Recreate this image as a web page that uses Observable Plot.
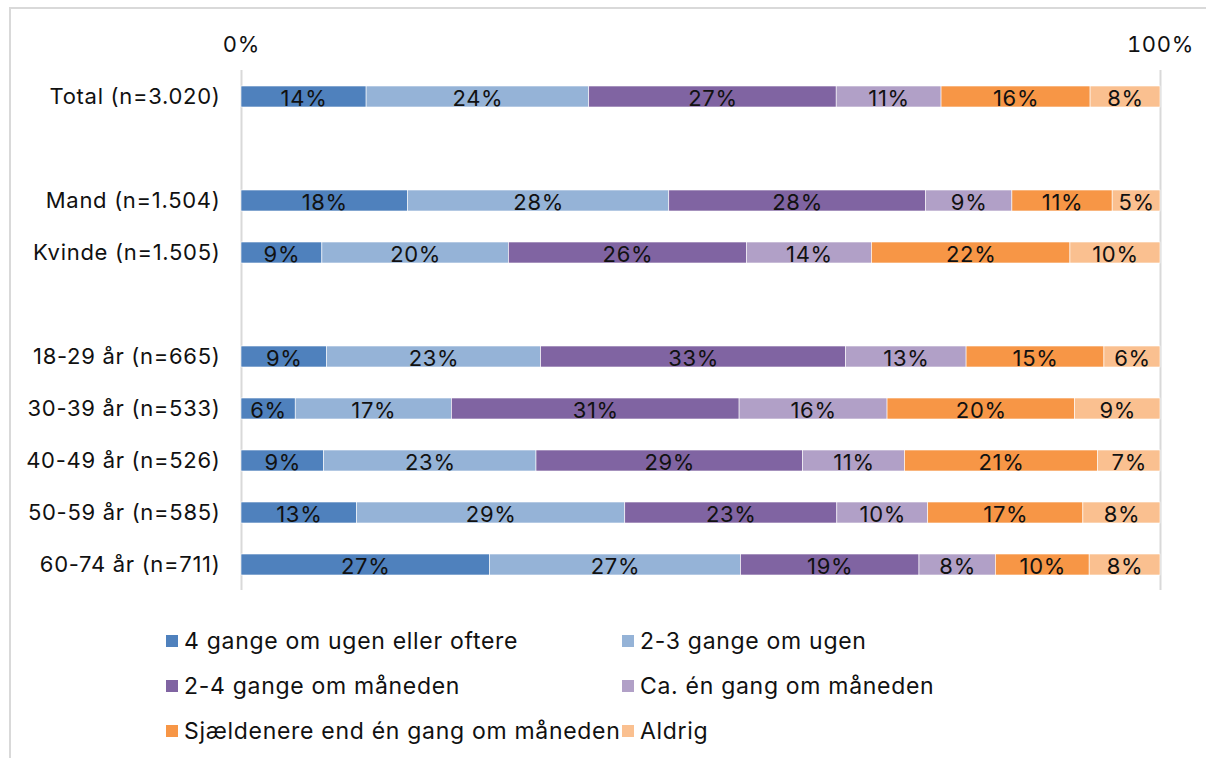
<!DOCTYPE html>
<html>
<head>
<meta charset="utf-8">
<script src="https://cdn.jsdelivr.net/npm/d3@7"></script>
<script src="https://cdn.jsdelivr.net/npm/@observablehq/plot@0.6"></script>
<style>
  html, body { margin: 0; padding: 0; background: #fff; }
  body { width: 1206px; height: 758px; position: relative; overflow: hidden; font-family: Inter, "Open Sans", sans-serif; }
  #frame { position: absolute; left: 9px; top: 7px; width: 1300px; height: 900px; border-left: 2px solid #d9d9d9; border-top: 2px solid #d9d9d9; }
  #chart { position: absolute; left: 0; top: 0; }
  #chart svg text { letter-spacing: 0.7px; }
  #legend { position: absolute; left: 0; top: 0; width: 1206px; }
  .item { position: absolute; display: flex; align-items: center; font-size: 23px; letter-spacing: 0.7px; color: #111; white-space: nowrap; height: 30px; }
  .sw { width: 12px; height: 12px; margin-right: 6px; flex: none; }
</style>
</head>
<body>
<div id="frame"></div>
<div id="chart"></div>
<div id="legend"></div>
<script>
// Row labels (gap entries are blank spacer rows)
const rows = ["Total (n=3.020)", "gap1", "Mand (n=1.504)", "Kvinde (n=1.505)", "gap2",
  "18-29 år (n=665)", "30-39 år (n=533)", "40-49 år (n=526)", "50-59 år (n=585)", "60-74 år (n=711)"];
const dataRows = ["Total (n=3.020)", "Mand (n=1.504)", "Kvinde (n=1.505)",
  "18-29 år (n=665)", "30-39 år (n=533)", "40-49 år (n=526)", "50-59 år (n=585)", "60-74 år (n=711)"];

// Series (legend order)
const series = ["4 gange om ugen eller oftere", "2-3 gange om ugen", "2-4 gange om måneden",
  "Ca. én gang om måneden", "Sjældenere end én gang om måneden", "Aldrig"];
const colors = ["#4F81BD", "#95B3D7", "#8064A2", "#B1A0C7", "#F79646", "#FAC090"];

// Values (%) per series, in dataRows order
const s4gangeUge   = [13.6, 18.1,  8.8,  9.3,  5.9,  9.0, 12.6, 27.0];
const s23gangeUge  = [24.2, 28.4, 20.3, 23.3, 17.0, 23.1, 29.2, 27.3];
const s24gangeMd   = [26.9, 27.9, 25.9, 33.2, 31.3, 29.0, 23.1, 19.4];
const sEnGangMd    = [11.4,  9.4, 13.6, 13.1, 16.1, 11.1,  9.9,  8.3];
const sSjaeldnere  = [16.2, 10.9, 21.6, 15.0, 20.4, 21.0, 16.9, 10.2];
const sAldrig      = [ 7.6,  5.2,  9.8,  6.1,  9.3,  6.8,  8.4,  7.7];
const seriesValues = [s4gangeUge, s23gangeUge, s24gangeMd, sEnGangMd, sSjaeldnere, sAldrig];

const xTicks = [0, 1];

const data = [];
series.forEach((s, i) => dataRows.forEach((r, j) => data.push({row: r, series: s, value: seriesValues[i][j]})));

const font = "Inter, 'Open Sans', sans-serif";

const chart = Plot.plot({
  width: 1206,
  height: 600,
  marginTop: 70,
  marginBottom: 10,
  marginLeft: 241,
  marginRight: 46,
  style: {fontFamily: font, fontSize: "22px", color: "#111", background: "transparent"},
  x: {domain: [0, 1], axis: null},
  y: {domain: rows, paddingInner: 0.6, paddingOuter: 0.3, axis: null},
  color: {domain: series, range: colors},
  marks: [
    Plot.ruleX(xTicks, {stroke: "#d9d9d9", strokeWidth: 2}),
    Plot.barX(data, Plot.stackX({x: "value", y: "row", fill: "series", order: series, offset: "normalize", stroke: "#fff", strokeWidth: 0.6})),
    Plot.text(data, Plot.stackX({x: "value", y: "row", z: "series", order: series, offset: "normalize",
      text: d => Math.round(d.value) + "%", fill: "#111", dy: 2, fontSize: 22})),
    Plot.axisX({anchor: "top", ticks: xTicks, tickSize: 0, tickPadding: 19, tickFormat: d => (d * 100) + "%", fontSize: 22, fill: "#111", label: null}),
    Plot.axisY({tickSize: 0, tickPadding: 21, tickFormat: d => d.startsWith("gap") ? "" : d, fontSize: 22, fill: "#111", label: null})
  ]
});
document.getElementById("chart").appendChild(chart);

// Legend
const legend = document.getElementById("legend");
const colX = [166, 622];
const rowY = [641, 686, 731];
series.forEach((s, i) => {
  const it = document.createElement("div");
  it.className = "item";
  it.style.left = colX[i % 2] + "px";
  it.style.top = (rowY[Math.floor(i / 2)] - 15) + "px";
  const sw = document.createElement("span");
  sw.className = "sw";
  sw.style.background = colors[i];
  const tx = document.createElement("span");
  tx.textContent = s;
  it.appendChild(sw);
  it.appendChild(tx);
  legend.appendChild(it);
});
</script>
</body>
</html>
